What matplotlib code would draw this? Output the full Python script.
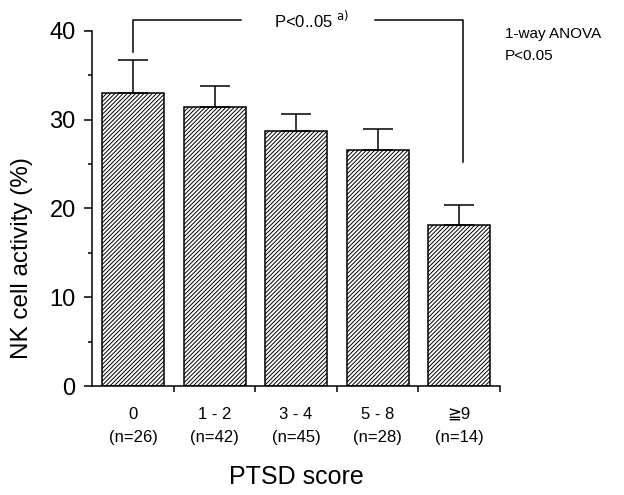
import numpy as np
import matplotlib
matplotlib.use('Agg')
import matplotlib.pyplot as plt
from matplotlib.ticker import MultipleLocator, FixedLocator

plt.rcParams['font.family'] = ['Liberation Sans', 'DejaVu Sans']
plt.rcParams['hatch.linewidth'] = 0.7

# data
groups = ['0', '1 - 2', '3 - 4', '5 - 8', '≧9']
counts = [26, 42, 45, 28, 14]
nk_mean = [33.0, 31.4, 28.7, 26.6, 18.1]
nk_err = [3.7, 2.4, 1.9, 2.3, 2.3]

tick_labels = ['%s\n(n=%d)' % (g, n) for g, n in zip(groups, counts)]
x = np.arange(len(groups))

fig = plt.figure(figsize=(6.24, 4.95), dpi=100)
ax = fig.add_axes([0.148, 0.22, 0.653, 0.718])

ax.bar(x, nk_mean, width=0.76, color='white', edgecolor='black',
       linewidth=1.1, hatch='////////', zorder=2)
ax.errorbar(x, nk_mean, yerr=[np.zeros(len(x)), nk_err], fmt='none',
            ecolor='black', elinewidth=1.1, capsize=11, capthick=1.1, zorder=3)

ax.set_xlim(-0.5, 4.5)
ax.set_ylim(0, 40)
ax.spines['top'].set_visible(False)
ax.spines['right'].set_visible(False)
for s in ['left', 'bottom']:
    ax.spines[s].set_linewidth(1.1)

ax.yaxis.set_major_locator(MultipleLocator(10))
ax.yaxis.set_minor_locator(MultipleLocator(5))
ax.tick_params(axis='y', which='major', length=6, width=1.1, labelsize=17, pad=6)
ax.tick_params(axis='y', which='minor', length=3, width=1.1)

ax.set_xticks(x)
ax.set_xticklabels(tick_labels, fontsize=12, linespacing=1.7)
ax.xaxis.set_minor_locator(FixedLocator(x + 0.5))
ax.tick_params(axis='x', which='major', length=0, pad=15)
ax.tick_params(axis='x', which='minor', length=4, width=1.1)

ax.set_xlabel('PTSD score', fontsize=18, labelpad=14)
ax.set_ylabel('NK cell activity (%)', fontsize=17.5)
ax.yaxis.set_label_coords(-0.145, 0.36)

# significance bracket between first and last group
ax.plot([0, 0, 1.32], [37.6, 41.2, 41.2], color='black', lw=1.1, clip_on=False)
ax.plot([2.97, 4.05, 4.05], [41.2, 41.2, 25.2], color='black', lw=1.1, clip_on=False)
ax.text(2.19, 41.2, 'P<0..05 $^{\\mathrm{a)}}$', ha='center', va='center', fontsize=12)

fig.text(0.809, 0.945, '1-way ANOVA\nP<0.05', ha='left', va='top', fontsize=11,
         linespacing=1.7)

fig.savefig('out.png', dpi=100, facecolor='white')
